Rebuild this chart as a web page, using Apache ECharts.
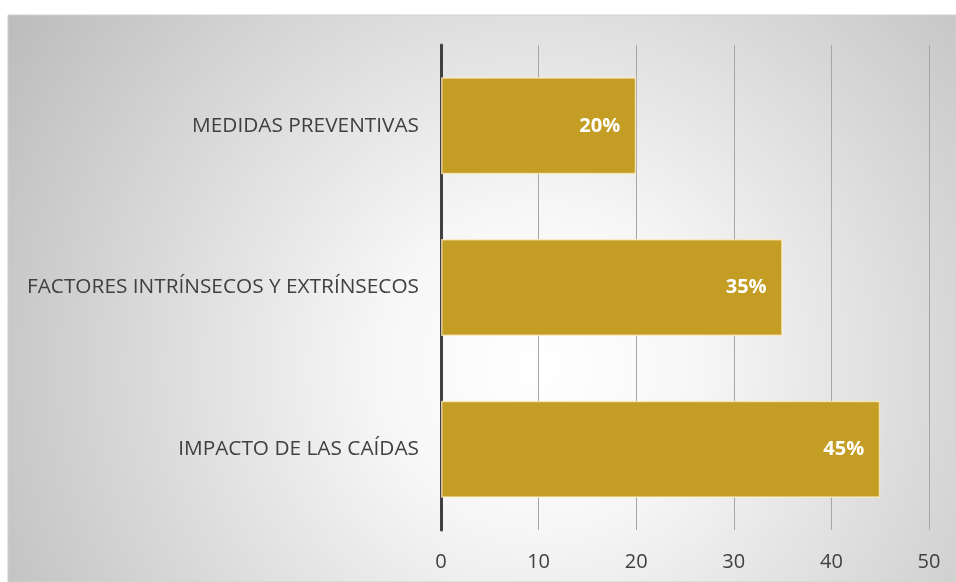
<!DOCTYPE html>
<html><head><meta charset="utf-8">
<script src="https://cdn.jsdelivr.net/npm/echarts@6/dist/echarts.min.js"></script>
<style>html,body{margin:0;padding:0;background:#fff}#c{width:956px;height:582px}</style>
</head><body><div id="c"></div>
<script>
const categories = ['IMPACTO DE LAS CAÍDAS', 'FACTORES INTRÍNSECOS Y EXTRÍNSECOS', 'MEDIDAS PREVENTIVAS'];
const values = [45, 35, 20];
const labels = ['45%', '35%', '20%'];
const xTicks = [0, 10, 20, 30, 40, 50];

const chart = echarts.init(document.getElementById('c'));
chart.setOption({
  animation: false,
  graphic: [{
    type: 'rect', z: -10, silent: true,
    shape: { x: 8, y: 15, width: 948, height: 567 },
    style: {
      fill: { type: 'radial', x: 0.56, y: 0.62, r: 1.1,
        colorStops: [{ offset: 0, color: '#ffffff' }, { offset: 0.25, color: '#f7f7f7' }, { offset: 1, color: '#bdbdbd' }] },
      stroke: '#d0d0d0', lineWidth: 1
    }
  }],
  grid: { left: 441, right: 27, top: 45, bottom: 52, containLabel: false },
  xAxis: {
    type: 'value', min: xTicks[0], max: xTicks[xTicks.length - 1], interval: 10,
    axisLine: { show: false }, axisTick: { show: false },
    splitLine: { show: true, lineStyle: { color: '#a6a6a6', width: 1 } },
    axisLabel: { color: '#404040', fontSize: 20, fontFamily: 'Open Sans', margin: 22 }
  },
  yAxis: {
    type: 'category', data: categories,
    axisLine: { show: true, lineStyle: { color: '#404040', width: 3 } },
    axisTick: { show: false },
    axisLabel: { color: '#404040', fontSize: 20.8, fontFamily: 'Open Sans', margin: 22 }
  },
  series: [{
    type: 'bar', data: values, barCategoryGap: '40%',
    itemStyle: { color: '#c49d25', borderColor: 'rgba(255,240,200,0.7)', borderWidth: 1.5 },
    label: {
      show: true, position: 'insideRight', distance: 16,
      color: '#ffffff', fontWeight: 'bold', fontSize: 20, fontFamily: 'Open Sans',
      formatter: p => labels[p.dataIndex]
    }
  }]
});
</script></body></html>
